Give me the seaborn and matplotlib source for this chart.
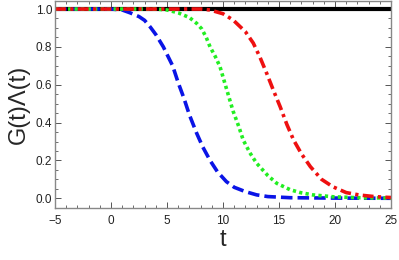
import numpy as np
import pandas as pd
import matplotlib
matplotlib.use("Agg")
import matplotlib.pyplot as plt
import seaborn as sns
from matplotlib.ticker import MultipleLocator

# %% data
t_black = [-5, 25]
g_black = [1.0, 1.0]

t_blue = [-5, 0, 1, 1.7, 2.5, 3, 3.5, 4, 4.67, 5, 5.5, 6, 6.5, 7, 7.65, 8.2, 8.84, 9.5,
          10.3, 11, 12, 13, 14, 16, 20, 25]
g_blue = [1.0, 1.0, 0.995, 0.98, 0.96, 0.94, 0.905, 0.865, 0.80, 0.76, 0.70, 0.61,
          0.53, 0.44, 0.343, 0.27, 0.20, 0.14, 0.088, 0.058, 0.035, 0.018, 0.009,
          0.003, 0.001, 0.0]

t_green = [-5, 4, 5, 6, 7, 7.65, 8.1, 8.5, 8.84, 9.3, 9.73, 10.3, 10.9, 11.4, 11.8, 12.4,
           13, 14, 14.8, 16, 16.9, 18, 19.8, 22, 25]
g_green = [1.0, 1.0, 0.995, 0.98, 0.955, 0.924, 0.895, 0.85, 0.80, 0.75, 0.695, 0.58,
           0.46, 0.38, 0.308, 0.24, 0.185, 0.12, 0.079, 0.045, 0.03, 0.018, 0.008,
           0.003, 0.001]

t_red = [-5, 8, 8.84, 10, 10.9, 12, 12.7, 13.3, 13.9, 14.5, 15.1, 15.7, 16.3, 17,
         17.8, 18.8, 19.8, 21, 22.2, 23.5, 24.6, 25]
g_red = [1.0, 1.0, 0.995, 0.975, 0.942, 0.88, 0.82, 0.745, 0.66, 0.57, 0.484, 0.39,
         0.308, 0.235, 0.167, 0.10, 0.061, 0.03, 0.017, 0.009, 0.005, 0.004]

# %% plot
sns.set_style("ticks")
plt.rcParams["font.family"] = ["Liberation Sans", "DejaVu Sans"]

fig = plt.figure(figsize=(3.99, 2.60), dpi=100)
ax = fig.add_axes([0.138, 0.201, 0.842, 0.797])

sns.lineplot(x=t_black, y=g_black, ax=ax, color="black", linewidth=3.0)
sns.lineplot(x=t_blue, y=g_blue, ax=ax, color="#0a14e6", linewidth=2.6,
             linestyle=(0, (3.2, 1.4)))
sns.lineplot(x=t_green, y=g_green, ax=ax, color="#22ee22", linewidth=2.6,
             linestyle=(0, (0.9, 0.9)))
sns.lineplot(x=t_red, y=g_red, ax=ax, color="#ee1010", linewidth=2.6,
             linestyle=(0, (3.0, 1.2, 0.9, 1.2)))

ax.set_xlim(-5, 25)
ax.set_ylim(-0.05, 1.045)
ax.xaxis.set_major_locator(MultipleLocator(5))
ax.xaxis.set_minor_locator(MultipleLocator(1))
ax.yaxis.set_major_locator(MultipleLocator(0.2))
ax.yaxis.set_minor_locator(MultipleLocator(0.05))
ax.yaxis.set_major_formatter(lambda v, pos: f"{v:.1f}")
ax.xaxis.set_major_formatter(lambda v, pos: f"{v:.0f}".replace("-", "\u2212"))

for s in ax.spines.values():
    s.set_color("#888888")
    s.set_linewidth(1.0)
ax.tick_params(which="both", direction="in", top=True, right=True,
               color="#555555", labelsize=8.5, labelcolor="#222222", pad=2)
ax.tick_params(axis="x", which="major", pad=5)
ax.tick_params(which="major", length=4, width=0.7)
ax.tick_params(which="minor", length=2, width=0.6)

ax.set_xlabel("t", fontsize=17, labelpad=2)
ax.set_ylabel("G(t)\u039b(t)", fontsize=17, labelpad=4)

fig.savefig("out.png", dpi=100)
